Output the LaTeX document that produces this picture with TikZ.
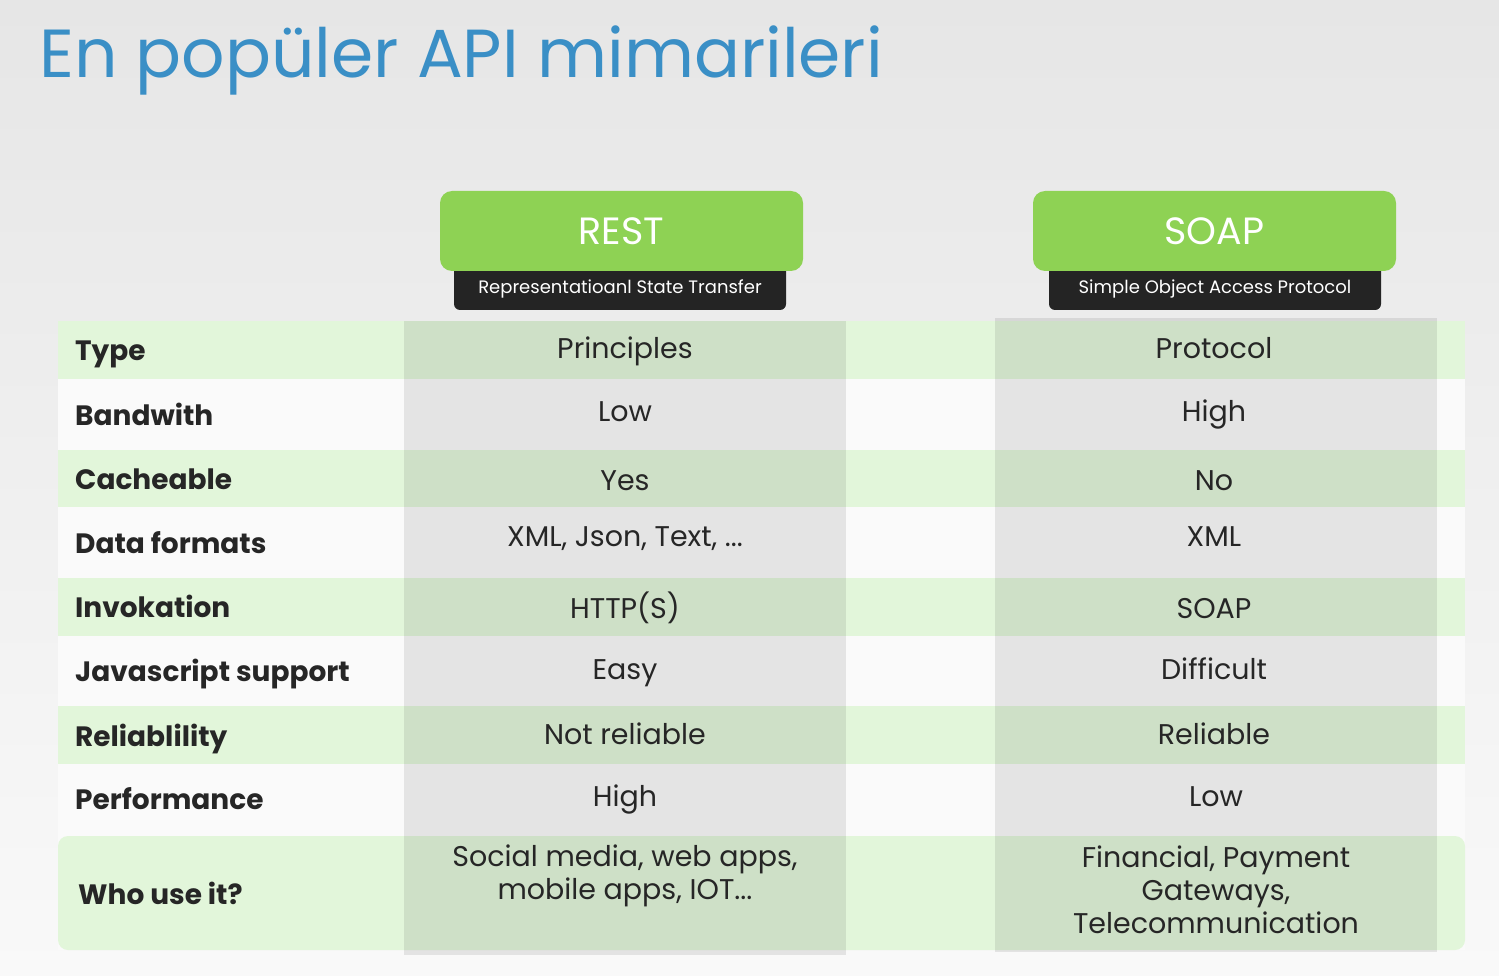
\documentclass[tikz,border=0pt]{standalone}
\usepackage{fontspec}
\setmainfont{Poppins}
\definecolor{bgtop}{HTML}{E6E6E6}
\definecolor{bgbot}{HTML}{F9F9F9}
\definecolor{rowwhite}{HTML}{FAFAFA}
\definecolor{rowgreen}{HTML}{E2F6DA}
\definecolor{headgreen}{HTML}{8ED254}
\definecolor{darkc}{HTML}{242424}
\definecolor{titleblue}{HTML}{3A8FC6}
\definecolor{txt}{HTML}{262626}
\tikzset{
  rowlabel/.style={anchor=base west, text=txt, font=\bfseries\fontsize{28}{32}\selectfont, inner sep=0pt},
  cellval/.style={anchor=base, text=txt, font=\fontsize{28.5}{33}\selectfont, align=center, inner sep=0pt},
  headbox/.style={fill=headgreen, rounded corners=12pt, minimum width=363pt, minimum height=80pt, text=white, font=\fontsize{38}{38}\selectfont, inner sep=0pt},
  subtext/.style={text=white, font=\fontsize{18}{20}\selectfont, inner sep=0pt},
}
\begin{document}
\begin{tikzpicture}[x=1pt,y=-1pt]
\useasboundingbox (0,0) rectangle (1499,976);
\shade[top color=bgtop, bottom color=bgbot] (0,0) rectangle (1499,976);
% title
\node[anchor=base west, text=titleblue, font=\fontsize{68}{68}\selectfont, inner sep=0pt] (title) at (39,78) {En popüler API mimarileri};
% headers
\fill[darkc, rounded corners=6pt] (454,255) rectangle (786,310);
\node[subtext] (restsub) at (620,289) {Representatioanl State Transfer};
\node[headbox] (rest) at (621.5,231) {REST};
\fill[darkc, rounded corners=6pt] (1049,255) rectangle (1381,310);
\node[subtext] (soapsub) at (1215,289) {Simple Object Access Protocol};
\node[headbox] (soap) at (1214.5,231) {SOAP};
% table background
\fill[rowwhite] (58,321) rectangle (1465,950);
\fill[rowgreen] (58,321) rectangle (1465,379);
\fill[rowgreen] (58,450) rectangle (1465,507);
\fill[rowgreen] (58,578) rectangle (1465,636);
\fill[rowgreen] (58,706) rectangle (1465,764);
\fill[rowgreen, rounded corners=10pt] (58,836) rectangle (1465,950);
% column overlays
\fill[black, opacity=0.085] (404,321) rectangle (846,955);
\fill[black, opacity=0.085] (995,318) rectangle (1437,952);
% row labels
\node[rowlabel] (l1) at (75,360) {Type};
\node[rowlabel] (l2) at (75,425) {Bandwith};
\node[rowlabel] (l3) at (75,489) {Cacheable};
\node[rowlabel] (l4) at (75,553) {Data formats};
\node[rowlabel] (l5) at (75,617) {Invokation};
\node[rowlabel] (l6) at (75,681) {Javascript support};
\node[rowlabel] (l7) at (75,746) {Reliablility};
\node[rowlabel] (l8) at (75,809) {Performance};
\node[rowlabel] (l9) at (78,904) {Who use it?};
% REST values
\node[cellval] (r1) at (625,358) {Principles};
\node[cellval] (r2) at (625,421) {Low};
\node[cellval] (r3) at (625,490) {Yes};
\node[cellval] (r4) at (625,546) {XML, Json, Text, ...};
\node[cellval] (r5) at (625,618) {HTTP(S)};
\node[cellval] (r6) at (625,679) {Easy};
\node[cellval] (r7) at (625,744) {Not reliable};
\node[cellval] (r8) at (625,806) {High};
\node[cellval] (r9) at (625,899) {Social media, web apps,\\mobile apps, IOT...};
% SOAP values
\node[cellval] (s1) at (1214,358) {Protocol};
\node[cellval] (s2) at (1214,421) {High};
\node[cellval] (s3) at (1214,490) {No};
\node[cellval] (s4) at (1214,546) {XML};
\node[cellval] (s5) at (1214,618) {SOAP};
\node[cellval] (s6) at (1214,679) {Difficult};
\node[cellval] (s7) at (1214,744) {Reliable};
\node[cellval] (s8) at (1216,806) {Low};
\node[cellval] (s9) at (1216,933) {Financial, Payment\\Gateways,\\Telecommunication};
\end{tikzpicture}
\end{document}
